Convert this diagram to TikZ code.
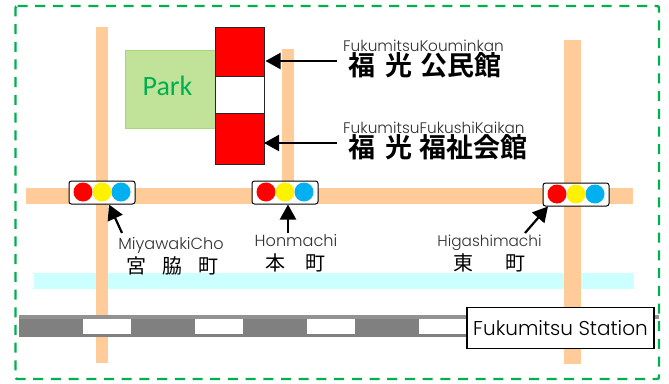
\documentclass[tikz,border=0pt]{standalone}
\usepackage{fontspec}
\setmainfont{Poppins Light}
\newfontfamily\jpb{Noto Sans CJK JP Bold}
\newfontfamily\jpr{Noto Sans CJK JP}
\newfontfamily\parkf{Carlito}
\definecolor{road}{HTML}{FFCC99}
\definecolor{river}{HTML}{CCFFFF}
\definecolor{parkfill}{HTML}{C0E399}
\definecolor{parkline}{HTML}{A9D678}
\definecolor{frame}{HTML}{00B050}
\definecolor{lblue}{HTML}{00B0F0}
\definecolor{rail}{HTML}{808080}
\definecolor{raillight}{HTML}{929292}
\definecolor{latin}{HTML}{303030}
\tikzset{
  px/.style={x=1pt,y=-1pt},
  roadbar/.style={fill=road,draw=none},
  building/.style={draw=black!85,line width=1pt,fill=red,minimum width=49pt,inner sep=0pt,outer sep=0pt},
  signalbox/.style={draw=black,line width=1pt,rounded corners=2.5pt,fill=white,minimum width=66pt,minimum height=23pt,inner sep=0pt},
  lampl/.style={circle,inner sep=0pt,minimum size=19pt,draw=none},
  ptr/.style={draw=black,line width=2.2pt,-{Triangle[length=15pt,width=16pt]}},
  small/.style={inner sep=0pt,text=latin,font=\fontsize{15.3}{17}\selectfont},
  smallwide/.style={inner sep=0pt,text=latin,font=\fontsize{16.1}{18}\selectfont},
  bigj/.style={inner sep=0pt,font=\fontsize{27}{29}\jpb},
  midj/.style={inner sep=0pt,font=\fontsize{20}{22}\jpr},
}
\usetikzlibrary{arrows.meta}
\newcommand{\signalat}[3]{%
  \node[signalbox] (#3) at (#1,#2) {};
  \node[lampl,fill=red] (#3r) at (#1-19,#2-0.5) {};
  \node[lampl,fill=yellow] (#3y) at (#1,#2-0.5) {};
  \node[lampl,fill=lblue] (#3b) at (#1+19,#2-0.5) {};
}
\begin{document}
\begin{tikzpicture}[px]
\useasboundingbox (0,0) rectangle (669,383);
\fill[white] (0,0) rectangle (669,383);
% frame
\draw[frame,line width=2.4pt,dash pattern=on 10pt off 7.7pt,rounded corners=2pt] (15.5,6) -- (659,6) -- (659,379) -- (15.5,379) -- cycle;
% roads
\fill[roadbar] (96,27) rectangle (108,363);
\fill[roadbar] (282,49) rectangle (294,195);
\fill[roadbar] (564,40) rectangle (581,364);
\fill[roadbar] (26,188) rectangle (633,204);
% river
\fill[river] (34,273) rectangle (634,289);
\fill[roadbar] (96,273) rectangle (108,289);
\fill[roadbar] (564,273) rectangle (581,289);
% rail
\fill[raillight] (19,315) rectangle (659,319);
\fill[rail] (19,319) rectangle (640,337);
\foreach \a/\b in {83/131,195/243,307/355,419/470}{\fill[white] (\a,319) rectangle (\b,334);}
% park
\node[draw=parkline,line width=1pt,fill=parkfill,minimum width=90pt,minimum height=78pt,inner sep=0pt] (park) at (170,89) {};
\node[inner sep=0pt,anchor=base,text=frame,font=\fontsize{28}{30}\parkf] (parklabel) at (167.5,95) {Park};
% buildings
\node[building,minimum height=49pt] (kouminkan) at (239.5,51.5) {};
\node[building,fill=white,minimum height=37pt] (gap) at (239.5,94.5) {};
\node[building,minimum height=51pt] (kaikan) at (239.5,138.5) {};
% signals
\signalat{102}{192.5}{sigA}
\signalat{285}{192.5}{sigB}
\signalat{576}{194.5}{sigC}
% labels
\node[small,anchor=base west] (fk) at (343,51) {FukumitsuKouminkan};
\node[bigj,anchor=base west] (fkj) at (348,75.5) {福\hspace{10pt}光\hspace{8pt}公民館};
\node[small,anchor=base west] (ff) at (343,133) {FukumitsuFukushiKaikan};
\node[bigj,anchor=base west] (ffj) at (348,157.5) {福\hspace{10pt}光\hspace{7pt}福祉会館};
\node[smallwide,anchor=base] (mw) at (171,249) {MiyawakiCho};
\node[midj,anchor=base] (mwj) at (172,273) {宮\hspace{16pt}脇\hspace{16pt}町};
\node[smallwide,anchor=base] (hm) at (296,246) {Honmachi};
\node[midj,anchor=base] (hmj) at (295,270) {本\hspace{20pt}町};
\node[small,anchor=base] (hg) at (489.5,246) {Higashimachi};
\node[midj,anchor=base] (hgj) at (489.5,270) {東\hspace{32pt}町};
% station
\node[draw=black,line width=1.5pt,fill=white,minimum width=187pt,minimum height=41pt,inner sep=0pt,font=\fontsize{20}{22}\selectfont] (station) at (560.5,328) {Fukumitsu Station};
% pointers
\coordinate (p1) at (337,61);
\coordinate (p2) at (337,143);
\coordinate (p3) at (122,233);
\coordinate (p4) at (288,233);
\coordinate (p5) at (525,233);
\draw[ptr] (p1) -- ([xshift=1.5pt]kouminkan.east |- p1);
\draw[ptr] (p2) -- (kaikan.east |- p2);
\draw[ptr] (p3) -- (109,204.5);
\draw[ptr] (p4) -- (p4 |- sigB.south);
\draw[ptr] (p5) -- (548,206.5);
\end{tikzpicture}
\end{document}
